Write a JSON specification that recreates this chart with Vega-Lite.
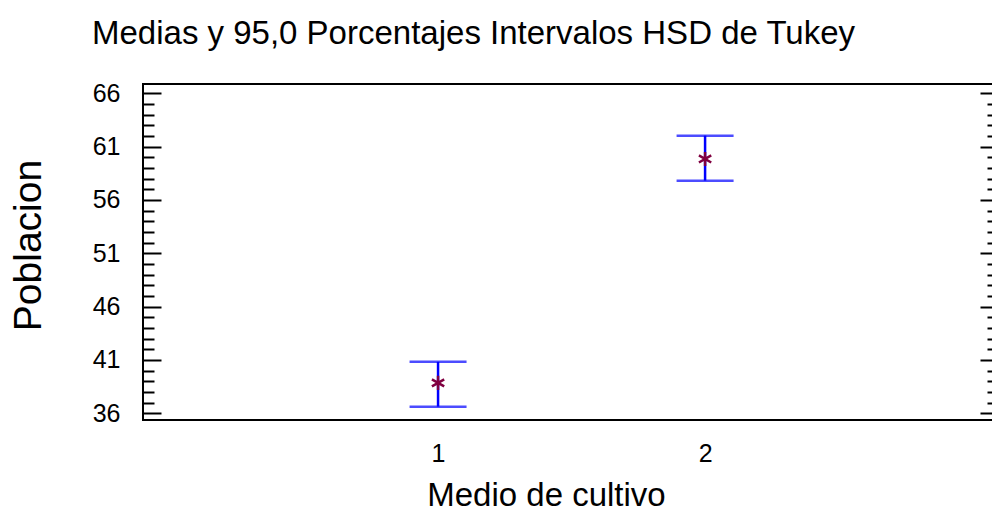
{
  "$schema": "https://vega.github.io/schema/vega-lite/v6.json",
  "autosize": "none",
  "width": 855,
  "height": 336,
  "padding": {"left": 143, "top": 84, "right": -6, "bottom": 99},
  "background": "white",
  "config": {
    "view": {"stroke": "black", "strokeWidth": 2},
    "font": "Liberation Sans"
  },
  "title": {
    "text": "Medias y 95,0 Porcentajes Intervalos HSD de Tukey",
    "anchor": "start",
    "frame": "group",
    "dx": -51,
    "offset": 4,
    "baseline": "alphabetic",
    "fontSize": 33,
    "fontWeight": "normal",
    "font": "Liberation Sans",
    "color": "black"
  },
  "data": {
    "values": [
      {"medio": 1, "media": 38.85, "inferior": 36.62, "superior": 40.82},
      {"medio": 2, "media": 59.84, "inferior": 57.81, "superior": 62.03}
    ]
  },
  "encoding": {
    "x": {
      "field": "medio",
      "type": "quantitative",
      "scale": {"domain": [-0.105, 3.097], "nice": false, "zero": false},
      "axis": {
        "title": "Medio de cultivo",
        "values": [1, 2],
        "format": "d",
        "ticks": false,
        "domain": false,
        "grid": false,
        "labelFontSize": 25,
        "labelColor": "black",
        "labelPadding": 21,
        "titleFontSize": 33,
        "titleFontWeight": "normal",
        "titleColor": "black",
        "titleBaseline": "alphabetic",
        "titleX": 403,
        "titleY": 85
      }
    }
  },
  "layer": [
    {
      "mark": {"type": "rule", "color": "#0000FF", "strokeWidth": 2.5},
      "encoding": {
        "y": {
          "field": "inferior",
          "type": "quantitative",
          "scale": {"domain": [35.37, 66.87], "nice": false, "zero": false},
          "axis": {
            "orient": "left",
            "title": "Poblacion",
            "values": [36,37,38,39,40,41,42,43,44,45,46,47,48,49,50,51,52,53,54,55,56,57,58,59,60,61,62,63,64,65,66],
            "labelExpr": "datum.value % 5 == 1 ? datum.label : ''",
            "tickSize": {"condition": {"test": "datum.value % 5 == 1", "value": -18}, "value": -11},
            "tickWidth": 2,
            "tickColor": "black",
            "domain": false,
            "grid": false,
            "labelFontSize": 25,
            "labelColor": "black",
            "labelPadding": 41,
            "labelOverlap": false,
            "labelFlush": false,
            "titleFontSize": 39,
            "titleFontWeight": "normal",
            "titleColor": "black",
            "titleBaseline": "alphabetic",
            "titleX": -103,
            "titleY": 161
          }
        },
        "y2": {"field": "superior"}
      }
    },
    {
      "mark": {"type": "tick", "orient": "horizontal", "color": "#0000FF", "size": 57, "thickness": 2.5},
      "encoding": {
        "y": {
          "field": "inferior",
          "type": "quantitative",
          "axis": {
            "orient": "right",
            "title": null,
            "values": [36,37,38,39,40,41,42,43,44,45,46,47,48,49,50,51,52,53,54,55,56,57,58,59,60,61,62,63,64,65,66],
            "labels": false,
            "tickSize": {"condition": {"test": "datum.value % 5 == 1", "value": -18}, "value": -11},
            "tickWidth": 2,
            "tickColor": "black",
            "domain": false,
            "grid": false
          }
        }
      }
    },
    {
      "mark": {"type": "tick", "orient": "horizontal", "color": "#0000FF", "size": 57, "thickness": 2.5},
      "encoding": {
        "y": {"field": "superior", "type": "quantitative", "axis": null}
      }
    },
    {
      "mark": {
        "type": "point",
        "shape": "M0,-1L0,1M-0.87,-0.5L0.87,0.5M-0.87,0.5L0.87,-0.5",
        "filled": false,
        "color": "#800040",
        "strokeWidth": 2.5,
        "size": 200,
        "opacity": 1
      },
      "encoding": {
        "y": {"field": "media", "type": "quantitative", "axis": null}
      }
    }
  ],
  "resolve": {"axis": {"y": "independent"}}
}
